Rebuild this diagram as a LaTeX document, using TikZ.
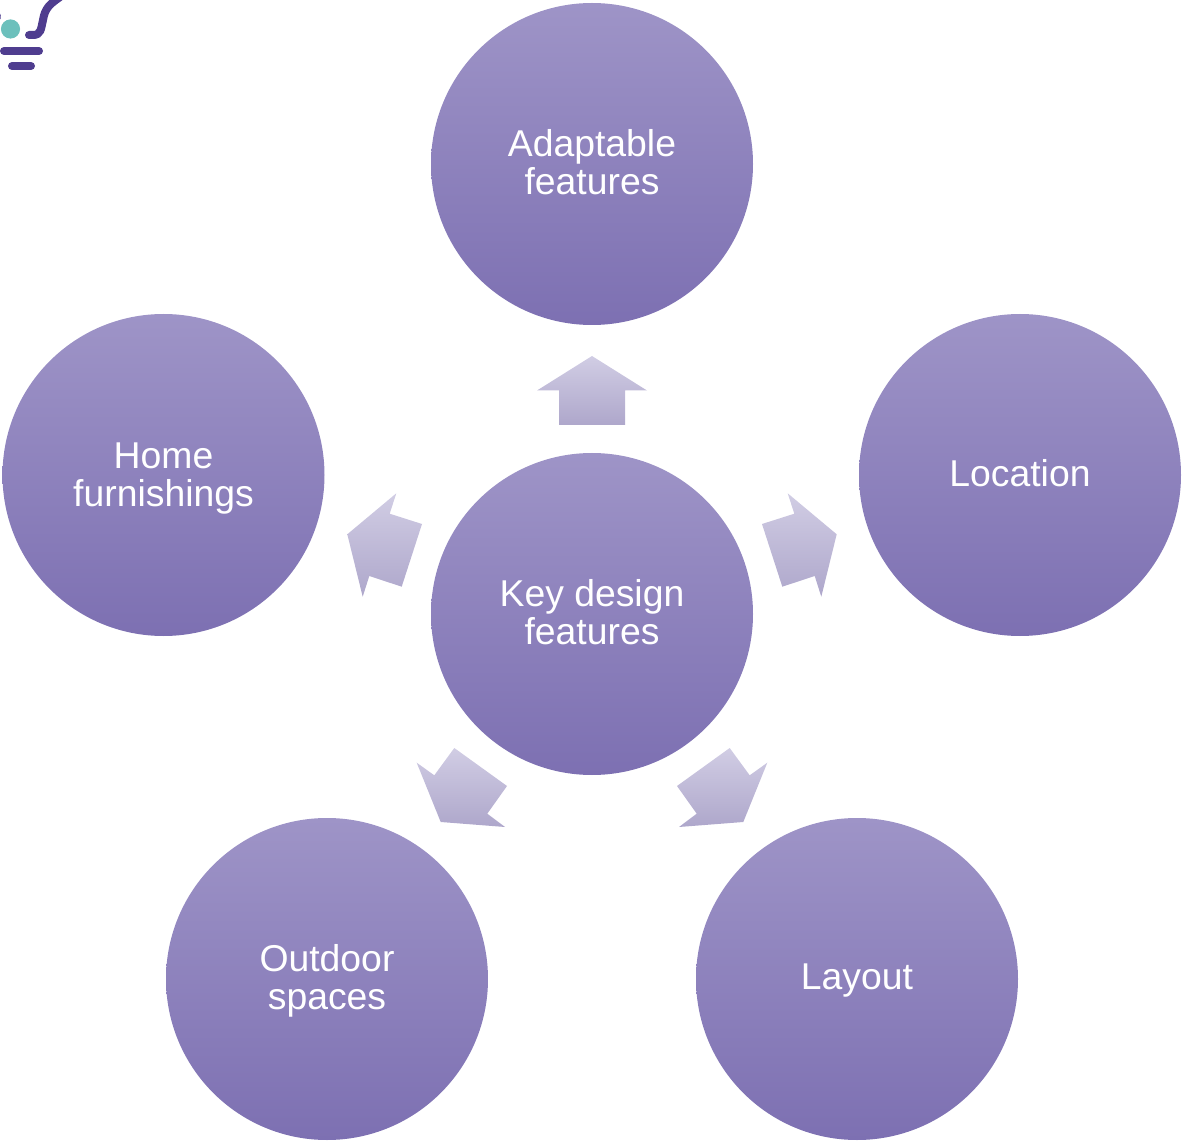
\documentclass[tikz,border=0pt]{standalone}
\usepackage{fontspec}
\setmainfont{Liberation Sans}
\usepackage{pgf,tikz}
\definecolor{circletop}{RGB}{158,148,199}
\definecolor{circlemid}{RGB}{143,131,194}
\definecolor{circlebot}{RGB}{125,112,178}
\definecolor{arrowtop}{RGB}{209,205,228}
\definecolor{arrowmid}{RGB}{197,192,223}
\definecolor{arrowbot}{RGB}{174,167,203}
\definecolor{logopurple}{RGB}{79,61,143}
\definecolor{logoteal}{RGB}{108,192,188}
\tikzset{
  featurecircle/.style={circle, minimum size=241.5pt, inner sep=0pt,
    top color=circletop, middle color=circlemid, bottom color=circlebot},
  featuretext/.style={text=white, align=center, inner sep=0pt,
    font=\fontsize{28}{28.6}\selectfont},
  arrowfill/.style={top color=arrowtop, middle color=arrowmid, bottom color=arrowbot},
  logoline/.style={draw=logopurple, line width=6pt, line cap=round}
}
\newcommand\featurenode[5]{\node[featurecircle] (#1) at (#2,#3) {};\node[featuretext] (#1text) at (#2,#4) {#5};}
\begin{document}
\begin{tikzpicture}[x=0.75pt,y=-0.75pt]
\useasboundingbox (0,0) rectangle (1183,1141);

% logo in the corner
\begin{scope}
\clip (0,0) rectangle (1183,1141);
\draw[logoline] (29,35) -- (33,35) .. controls (41,35) and (41,29) .. (43,20) .. controls (45,8) and (50,4) .. (60,-3);
\draw[logoline] (-7,6) -- (-3,17);
\draw[logoline] (4,51) -- (39,51);
\draw[logoline] (12,66) -- (31,66);
\fill[logoteal] (10.5,29) circle (7.2pt);
\end{scope}

\featurenode{adaptable}{592}{164}{162.5}{Adaptable\\features}
\featurenode{key}{592}{614}{612}{Key design\\features}
\featurenode{location}{1020}{475}{473}{Location}
\featurenode{furnishings}{163.5}{475}{478.5}{Home\\furnishings}
\featurenode{outdoor}{327}{979}{981}{Outdoor\\spaces}
\featurenode{layout}{857}{979}{981}{Layout}

% block arrows
\shade[arrowfill] (592,356) -- (647,390.5) -- (625,390.5) -- (625,425) -- (559,425) -- (559,390.5) -- (537,390.5) -- cycle;
\shade[arrowfill] (787.7,493.3) -- (836.7,534.3) -- (821.3,596.7) -- (814.7,576) -- (782.3,586.7) -- (762,524) -- (794.3,513.7) -- cycle;
\shade[arrowfill] (396.3,493.3) -- (347.3,534.3) -- (362.7,596.7) -- (369.3,576) -- (401.7,586.7) -- (422,524) -- (389.7,513.7) -- cycle;
\shade[arrowfill] (729.7,748) -- (749.7,775.3) -- (767.3,762.7) -- (743.3,822) -- (679,827) -- (696.7,813.7) -- (677,786) -- cycle;
\shade[arrowfill] (454.3,748) -- (434.3,775.3) -- (416.7,762.7) -- (440.7,822) -- (505,827) -- (487.3,813.7) -- (507,786) -- cycle;
\end{tikzpicture}
\end{document}
